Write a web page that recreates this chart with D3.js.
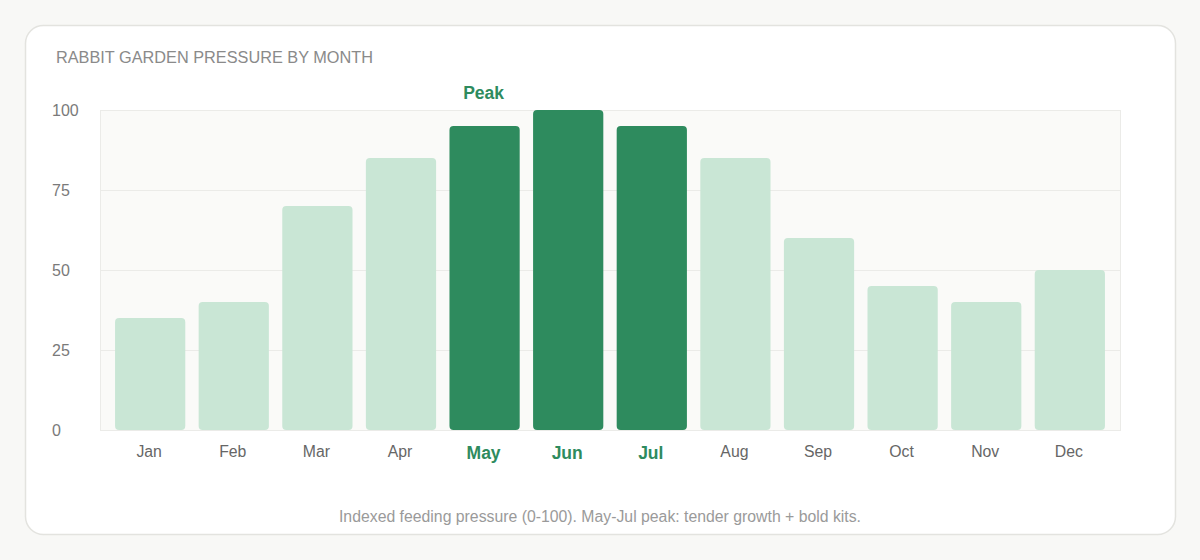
<!DOCTYPE html>
<html>
<head>
<meta charset="utf-8">
<script src="https://cdn.jsdelivr.net/npm/d3@7"></script>
<style>
  html, body { margin: 0; padding: 0; background: #f8f8f6; }
  svg { display: block; font-family: "Liberation Sans", Arial, sans-serif; }
</style>
</head>
<body>
<svg id="chart" width="1200" height="560"></svg>
<script>
// chart data
const months = ['Jan', 'Feb', 'Mar', 'Apr', 'May', 'Jun', 'Jul', 'Aug', 'Sep', 'Oct', 'Nov', 'Dec'];
const pressure = [35, 40, 70, 85, 95, 100, 95, 85, 60, 45, 40, 50];
const peakMonths = ['May', 'Jun', 'Jul'];
const yTicks = [0, 25, 50, 75, 100];

const svg = d3.select('#chart');
const plot = { left: 100, right: 1120, top: 110, bottom: 430 };

// card
svg.append('rect')
  .attr('x', 25.5).attr('y', 25.5)
  .attr('width', 1150).attr('height', 509)
  .attr('rx', 18)
  .attr('fill', '#ffffff')
  .attr('stroke', '#e3e3df')
  .attr('stroke-width', 1.5);

svg.append('text')
  .attr('x', 56).attr('y', 63)
  .attr('font-size', 16.3)
  .attr('fill', '#8a8a8a')
  .text('RABBIT GARDEN PRESSURE BY MONTH');

const x = d3.scaleBand()
  .domain(months)
  .range([plot.left, plot.right])
  .paddingInner(0.16)
  .paddingOuter(0.18);

const y = d3.scaleLinear()
  .domain([0, 100])
  .range([plot.bottom, plot.top]);

// plot background
svg.append('rect')
  .attr('x', plot.left + 0.5).attr('y', plot.top + 0.5)
  .attr('width', plot.right - plot.left).attr('height', plot.bottom - plot.top)
  .attr('fill', '#fafaf8')
  .attr('stroke', '#ebebe8');

// gridlines
svg.append('g')
  .selectAll('line')
  .data(yTicks.filter(d => d > 0 && d < 100))
  .enter()
  .append('line')
  .attr('x1', plot.left).attr('x2', plot.right)
  .attr('y1', d => Math.round(y(d)) + 0.5)
  .attr('y2', d => Math.round(y(d)) + 0.5)
  .attr('stroke', '#ebebe8');

// y tick labels
svg.append('g')
  .selectAll('text')
  .data(yTicks)
  .enter()
  .append('text')
  .attr('x', 52)
  .attr('y', d => y(d) + 5.5)
  .attr('font-size', 16)
  .attr('fill', '#7a7a7a')
  .text(d => d);

// bars
svg.append('g')
  .selectAll('rect')
  .data(months)
  .enter()
  .append('rect')
  .attr('x', d => x(d))
  .attr('y', (d, i) => y(pressure[i]))
  .attr('width', x.bandwidth())
  .attr('height', (d, i) => y(0) - y(pressure[i]))
  .attr('rx', 4)
  .attr('fill', d => peakMonths.includes(d) ? '#2e8b5e' : '#c9e6d5');

// x labels
svg.append('g')
  .selectAll('text')
  .data(months)
  .enter()
  .append('text')
  .attr('x', d => x(d) + x.bandwidth() / 2 - 1)
  .attr('y', d => peakMonths.includes(d) ? 459 : 457)
  .attr('text-anchor', 'middle')
  .attr('font-size', d => peakMonths.includes(d) ? 17.5 : 15.8)
  .attr('font-weight', d => peakMonths.includes(d) ? 'bold' : 'normal')
  .attr('fill', d => peakMonths.includes(d) ? '#2e8b5e' : '#666666')
  .text(d => d);

// peak annotation
svg.append('text')
  .attr('x', x(peakMonths[0]) + x.bandwidth() / 2 - 1)
  .attr('y', 99)
  .attr('text-anchor', 'middle')
  .attr('font-size', 17.5)
  .attr('font-weight', 'bold')
  .attr('fill', '#2e8b5e')
  .text('Peak');

// caption
svg.append('text')
  .attr('x', 600).attr('y', 522)
  .attr('text-anchor', 'middle')
  .attr('font-size', 15.8)
  .attr('fill', '#9a9a9a')
  .text('Indexed feeding pressure (0-100). May-Jul peak: tender growth + bold kits.');
</script>
</body>
</html>
